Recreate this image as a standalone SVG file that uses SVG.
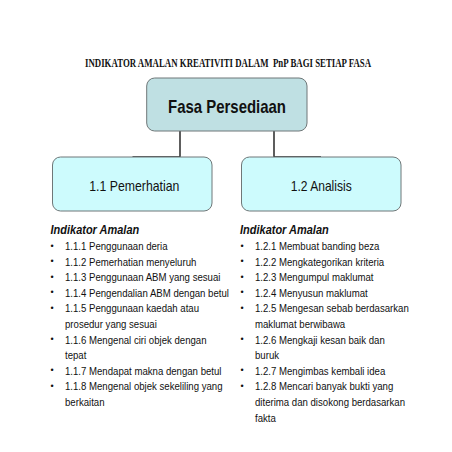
<svg xmlns="http://www.w3.org/2000/svg" width="452" height="452" viewBox="0 0 452 452">
<style>
.box{stroke:#6f7778;stroke-width:1}
.top{fill:#bfe0e3}
.child{fill:#cdfbfd}
.conn{fill:none;stroke:#1a1a1a;stroke-width:1.4}
.lbl{font-family:"Liberation Sans",Arial,sans-serif;fill:#111}
.li{font-family:"Liberation Sans",Arial,sans-serif;font-size:11.8px;fill:#111}
.hd{font-family:"Liberation Sans",Arial,sans-serif;font-size:13.4px;font-weight:bold;font-style:italic;fill:#111}
.bul{font-family:"Liberation Sans",Arial,sans-serif;font-size:9px;fill:#111}
.title{font-family:"Liberation Serif","Times New Roman",serif;font-size:12.8px;font-weight:bold;fill:#111}
</style>
<rect width="452" height="452" fill="#ffffff"/>
<g transform="translate(85,0) scale(0.69,1)">
<text class="title" x="0" y="67" xml:space="preserve">INDIKATOR AMALAN KREATIVITI DALAM  PnP BAGI SETIAP FASA</text>
</g>
<g id="connectors">
<path class="conn" d="M180,131 V157 H132.5"/>
<path class="conn" d="M274,131 V157 H321"/>
</g>
<g id="node-fasa">
<rect class="box top" x="146.7" y="78" width="160.3" height="53" rx="8"/>
<text class="lbl" x="227" y="112.7" font-size="18.6" font-weight="bold" text-anchor="middle" textLength="118" lengthAdjust="spacingAndGlyphs">Fasa Persediaan</text>
</g>
<g id="node-pemerhatian">
<rect class="box child" x="52.5" y="157" width="159.5" height="54" rx="8"/>
<text class="lbl" x="134.3" y="191" font-size="14.8" text-anchor="middle" textLength="90" lengthAdjust="spacingAndGlyphs">1.1 Pemerhatian</text>
</g>
<g id="node-analisis">
<rect class="box child" x="241.5" y="157" width="159.5" height="54" rx="8"/>
<text class="lbl" x="321.2" y="191" font-size="14.8" text-anchor="middle" textLength="61" lengthAdjust="spacingAndGlyphs">1.2 Analisis</text>
</g>
<g id="list-left">
<g transform="translate(50.5,0) scale(0.82,1)"><text class="hd" x="0" y="234">Indikator Amalan</text></g>
<g class="bul">
<text x="50.5" y="248.5">•</text>
<text x="50.5" y="264.1">•</text>
<text x="50.5" y="279.7">•</text>
<text x="50.5" y="295.3">•</text>
<text x="50.5" y="310.9">•</text>
<text x="50.5" y="342.1">•</text>
<text x="50.5" y="373.3">•</text>
<text x="50.5" y="388.9">•</text>
</g>
<g transform="translate(65,0) scale(0.815,1)">
<text class="li" x="0" y="250">1.1.1 Penggunaan deria</text>
<text class="li" x="0" y="265.6">1.1.2 Pemerhatian menyeluruh</text>
<text class="li" x="0" y="281.2">1.1.3 Penggunaan ABM yang sesuai</text>
<text class="li" x="0" y="296.8">1.1.4 Pengendalian ABM dengan betul</text>
<text class="li" x="0" y="312.4">1.1.5 Penggunaan kaedah atau</text>
<text class="li" x="0" y="328">prosedur yang sesuai</text>
<text class="li" x="0" y="343.6">1.1.6 Mengenal ciri objek dengan</text>
<text class="li" x="0" y="359.2">tepat</text>
<text class="li" x="0" y="374.8">1.1.7 Mendapat makna dengan betul</text>
<text class="li" x="0" y="390.4">1.1.8 Mengenal objek sekeliling yang</text>
<text class="li" x="0" y="406">berkaitan</text>
</g>
</g>
<g id="list-right">
<g transform="translate(240,0) scale(0.82,1)"><text class="hd" x="0" y="234">Indikator Amalan</text></g>
<g class="bul">
<text x="240.5" y="248.5">•</text>
<text x="240.5" y="264.1">•</text>
<text x="240.5" y="279.7">•</text>
<text x="240.5" y="295.3">•</text>
<text x="240.5" y="310.9">•</text>
<text x="240.5" y="342.1">•</text>
<text x="240.5" y="373.3">•</text>
<text x="240.5" y="388.9">•</text>
</g>
<g transform="translate(255,0) scale(0.815,1)">
<text class="li" x="0" y="250">1.2.1 Membuat banding beza</text>
<text class="li" x="0" y="265.6">1.2.2 Mengkategorikan kriteria</text>
<text class="li" x="0" y="281.2">1.2.3 Mengumpul maklumat</text>
<text class="li" x="0" y="296.8">1.2.4 Menyusun maklumat</text>
<text class="li" x="0" y="312.4">1.2.5 Mengesan sebab berdasarkan</text>
<text class="li" x="0" y="328">maklumat berwibawa</text>
<text class="li" x="0" y="343.6">1.2.6 Mengkaji kesan baik dan</text>
<text class="li" x="0" y="359.2">buruk</text>
<text class="li" x="0" y="374.8">1.2.7 Mengimbas kembali idea</text>
<text class="li" x="0" y="390.4">1.2.8 Mencari banyak bukti yang</text>
<text class="li" x="0" y="406">diterima dan disokong berdasarkan</text>
<text class="li" x="0" y="421.6">fakta</text>
</g>
</g>
</svg>
